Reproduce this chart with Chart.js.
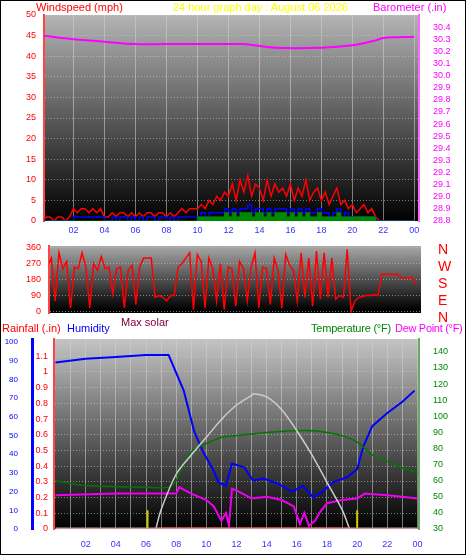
<!DOCTYPE html>
<html><head><meta charset="utf-8">
<script src="https://cdn.jsdelivr.net/npm/chart.js@4"></script>
<style>
body{margin:0;background:#fff;font-family:"Liberation Sans",Arial,sans-serif}
#wrap{position:relative;width:466px;height:555px;box-sizing:border-box;border:1px solid #000;overflow:hidden}
canvas{position:absolute;left:0}
.t{position:absolute;font-size:11px;white-space:nowrap;line-height:12px}
</style></head><body>
<div id="wrap">
<canvas id="c1" style="top:0" width="466" height="242"></canvas>
<canvas id="c2" style="top:242px" width="466" height="76"></canvas>
<canvas id="c3" style="top:330px" width="466" height="225"></canvas>
<div class="t" style="left:35px;top:0;color:#f00">Windspeed (mph)</div>
<div class="t" style="left:172px;top:0;color:#ff0">24 hour graph day : August 06 2026</div>
<div class="t" style="left:372px;top:0;color:#f0f">Barometer (.in)</div>
<div class="t" style="left:437px;top:240px;color:#f00;font-size:14px;line-height:17px">N<br>W<br>S<br>E<br>N</div>
<div class="t" style="left:120px;top:315px;color:#800040">Max solar</div>
<div class="t" style="left:1px;top:321px;color:#f00">Rainfall (.in)</div>
<div class="t" style="left:66px;top:321px;color:#00f">Humidity</div>
<div class="t" style="left:310px;top:321px;color:#080;letter-spacing:-0.2px">Temperature (°F)</div>
<div class="t" style="left:394px;top:321px;color:#f0f;letter-spacing:-0.3px">Dew Point (°F)</div>
</div>
<script>
// ---- data ----
const hourLabels = ["02","04","06","08","10","12","14","16","18","20","22","00"];
const windMax = [0,1,1,0,1,1,0,1, 3,2,3,3,2,3,2,3, 1,1,2,1,2,2,1,2, 1,2,1,2,2,1,2,2, 1,2,1,2,3,2,3,3,
 3,4,3,5,4,6,5,7, 6,9,5,10,7,11,6,9, 8,5,10,6,9,7,8,6, 9,5,8,6,10,5,7,8, 5,7,4,6,8,4,5,3, 4,2,3,4,2,3,1,0, 0,0,0,0,0,0,0,0,0];
const windAvg = [0,0,0,0,0,0,0,0, 1,1,1,1,1,1,1,1, 0,0,1,0,1,1,0,1, 0,1,0,1,1,0,1,1, 0,1,0,1,1,1,1,1,
 1,2,1,2,2,2,2,3, 2,3,2,3,3,4,2,3, 3,2,3,2,3,3,3,2, 3,2,3,2,3,2,2,3, 2,2,1,2,3,1,2,1, 1,1,1,1,1,1,0,0, 0,0,0,0,0,0,0,0,0];
const windLow = [0,0,0,0,0,0,0,0, 0,0,0,0,0,0,0,0, 0,0,0,0,0,0,0,0, 0,0,0,0,0,0,0,0, 0,0,0,0,0,0,0,0,
 1,1,1,1,1,1,1,2, 1,2,1,2,2,2,1,2, 2,1,2,1,2,2,2,1, 2,1,2,1,2,1,1,2, 1,1,1,1,2,1,1,1, 1,1,1,1,1,1,0,0, 0,0,0,0,0,0,0,0,0];
const baroHours = [0,2,4,6,8,10,12,13,15,18,20,21.5,22,24];
const baroVals  = [30.33,30.30,30.28,30.26,30.26,30.26,30.26,30.26,30.23,30.23,30.25,30.29,30.31,30.32];
const windDir = [250,300,60,330,240,280,20,250, 240,330,250,20,270,230,310,240, 250,100,240,250,20,230,260,40,
 250,300,300,300,80,90,80,60, 90,90,250,270,300,330,10,320, 280,20,300,240,60,270,10,250,
 240,30,280,240,60,250,330,20, 250,240,40,300,230,20,320,260, 230,60,330,80,300,30,340,70,
 330,80,300,70,90,80,350,0, 60,80,85,90,90,95,90,210, 210,210,210,210,190,190,190,190,150];
const humHours = [0,2,4,6,7.5,8.5,9.2,9.8,10.5,10.8,11.3,11.7,12.5,13.1,13.8,14.8,15.7,16.4,17.1,17.7,18.4,19.4,20,20.4,21,22,23,23.8];
const humVals  = [89,91,92,93,93,74,52,41,31,25,23,35,33,26,27,24,20,23,17,20,25,28,32,44,55,62,68,74];
const tempHours = [0,2,6,7.5,8,8.5,9,10,11,12,14,16,17,18,19,20,21,22,23,24];
const tempVals  = [60,57,56,56,60,70,78,83,87,88,90,91,91,90,88,84,76,72,68,65];
const dewHours = [0,4,8,8.2,9,10,10.5,11,11.3,11.5,11.7,12,13,14,15,15.8,16.2,16.5,16.8,17.2,17.5,18,19,20,20.5,22,23,24];
const dewVals  = [51,52,52,56,52,48,44,35,40,32,55,54,49,50,48,44,33,40,32,35,40,46,48,49,52,51,50,49];
const solarHours = [6.65,7,8,9,10,11,12,13,13.1,14,15,16,17,18,19,19.5];
const solarVals  = [30,42,64,76,87,98,107,113,114,112,104,91,76,59,42,30];
const rainHours = [0,6.65,6.65,19.5,19.5,24];
const rainVals  = [0,0,0,0,0,0];
const sunMarks = [6.1,20];

// ---- helpers ----
const q = (arr,step)=>arr.map((v,i)=>({x:i*step,y:v}));
const zip = (h,v)=>h.map((x,i)=>({x:x,y:v[i]}));
const F = {family:"Liberation Sans", size:9};
const bg = {id:'bg',beforeDraw(c,a,o){const {ctx,chartArea:ca}=c;const g=ctx.createLinearGradient(0,ca.top,0,ca.bottom);
 g.addColorStop(0,o.c0);g.addColorStop(o.s||0.9,'#000');g.addColorStop(1,'#000');ctx.save();ctx.fillStyle=g;ctx.fillRect(ca.left,ca.top,ca.width,ca.height);ctx.restore();}};
const xTick = v=>{const h=Math.round(v);return (Math.abs(v-h)<0.01 && h%2===0 && h>0)?hourLabels[h/2-1]:'';};
const grid = {color:'rgba(210,210,210,0.55)',lineWidth:1,tickLength:0};
const fixW = w=>s=>{s.width=w;s.paddingTop=0;s.paddingBottom=0;};
const fixH = h=>s=>{s.height=h;};
const fixTicks = arr=>s=>{s.ticks=arr.map(v=>({value:v}));};
const base = {responsive:false,animation:false,events:[],plugins:{legend:{display:false},tooltip:{enabled:false}},elements:{point:{radius:0}}};

// ---- top chart ----
new Chart(document.getElementById('c1'),{type:'line',plugins:[bg],
 data:{datasets:[
  {data:zip(baroHours,baroVals),yAxisID:'yb',borderColor:'#f0f',borderWidth:2,tension:0.4},
  {data:q(windLow,0.25),yAxisID:'y',borderColor:'#080',backgroundColor:'#080',fill:'origin',borderWidth:1,stepped:true},
  {data:q(windAvg,0.25),yAxisID:'y',borderColor:'#00f',borderWidth:1.5,stepped:true},
  {data:q(windMax,0.25),yAxisID:'y',borderColor:'#f00',borderWidth:1.5}]},
 options:{...base,layout:{padding:{top:14}},plugins:{...base.plugins,bg:{c0:'#b4b4b4',s:1}},
  scales:{
   x:{type:'linear',min:0.1,max:24.3,afterFit:fixH(22),afterBuildTicks:fixTicks([2,4,6,8,10,12,14,16,18,20,22,24]),
      ticks:{callback:xTick,color:'#33f',font:F,autoSkip:false,maxRotation:0,padding:4},grid:{...grid,borderDash:[2,2]},border:{display:false}},
   y:{position:'left',min:0,max:50,afterFit:fixW(43),ticks:{stepSize:5,color:'#f00',font:F,padding:8},
      grid:{...grid,borderDash:[2,2]},border:{color:'#f44',dash:[1,2],width:2}},
   yb:{position:'right',min:28.8,max:30.5,afterFit:fixW(48),afterBuildTicks:fixTicks([28.8,28.9,29,29.1,29.2,29.3,29.4,29.5,29.6,29.7,29.8,29.9,30,30.1,30.2,30.3,30.4]),
      ticks:{color:'#f0f',font:F,padding:6,autoSkip:false,callback:v=>v.toFixed(1)},grid:{display:false},border:{color:'#f6f',dash:[1,2],width:2}}}}});

// ---- middle chart ----
new Chart(document.getElementById('c2'),{type:'line',plugins:[bg],
 data:{datasets:[{data:q(windDir,0.25),borderColor:'#f00',borderWidth:1.5}]},
 options:{...base,layout:{padding:{top:3,bottom:6}},plugins:{...base.plugins,bg:{c0:'#a8a8a8',s:0.95}},
  scales:{
   x:{type:'linear',min:0.1,max:24.3,display:false},
   y:{position:'left',min:-8,max:368,afterFit:fixW(48),afterBuildTicks:fixTicks([0,90,180,270,360]),
      ticks:{color:'#f00',font:F,padding:8,autoSkip:false},grid:{...grid,borderDash:[2,2]},border:{color:'#f44',dash:[1,2],width:2}},
   yr:{position:'right',display:true,afterFit:fixW(46),ticks:{display:false},grid:{display:false},border:{display:false}}}}});

// ---- bottom chart ----
const sunData=[];sunMarks.forEach(h=>{sunData.push({x:h,y:0},{x:h,y:10},{x:h,y:null});});
new Chart(document.getElementById('c3'),{type:'line',plugins:[bg],
 data:{datasets:[
  {data:q([0,0],24),yAxisID:'yr',borderColor:'#c99',borderWidth:3},
  {data:zip(rainHours,rainVals).slice(1,4),yAxisID:'yr',borderColor:'#f00',borderWidth:3},
  {data:sunData,yAxisID:'yh',borderColor:'#cc0',borderWidth:2,spanGaps:false},
  {data:zip(solarHours,solarVals),yAxisID:'yt',borderColor:'#ccc',borderWidth:1.5,tension:0.3},
  {data:zip(tempHours,tempVals),yAxisID:'yt',borderColor:'#070',borderWidth:1.5,tension:0.3},
  {data:zip(dewHours,dewVals),yAxisID:'yt',borderColor:'#e0e',borderWidth:2},
  {data:zip(humHours,humVals),yAxisID:'yh',borderColor:'#00f',borderWidth:2}]},
 options:{...base,layout:{padding:{top:8}},plugins:{...base.plugins,bg:{c0:'#c4c4c4',s:1}},
  scales:{
   x:{type:'linear',min:-0.1,max:24.1,afterFit:fixH(27),afterBuildTicks:fixTicks([1,2,3,4,5,6,7,8,9,10,11,12,13,14,15,16,17,18,19,20,21,22,23,24]),
      ticks:{callback:xTick,color:'#33f',font:F,autoSkip:false,maxRotation:0,padding:10},grid:{...grid,borderDash:[2,2]},border:{display:false}},
   yr:{position:'left',weight:0,min:0,max:1.21,afterFit:fixW(22),afterBuildTicks:fixTicks([0,0.1,0.2,0.3,0.4,0.5,0.6,0.7,0.8,0.9,1,1.1]),
      ticks:{color:'#f00',font:F,padding:6,autoSkip:false,callback:v=>v===0?'0':(+v.toFixed(1)).toString()},grid:{...grid,borderDash:[2,2]},border:{color:'#f44',dash:[1,2],width:2}},
   yh:{position:'left',weight:1,min:0,max:101.6,afterFit:fixW(31),afterBuildTicks:fixTicks([0,10,20,30,40,50,60,70,80,90,100]),
      ticks:{color:'#00f',font:{family:"Liberation Sans",size:8},padding:6,autoSkip:false},grid:{display:false},border:{color:'#00f',width:3}},
   yt:{position:'right',min:30,max:148,afterFit:fixW(48),afterBuildTicks:fixTicks([30,40,50,60,70,80,90,100,110,120,130,140]),
      ticks:{color:'#080',font:F,padding:6,autoSkip:false},grid:{display:false},border:{color:'#6a6',dash:[1,2],width:2}}}}});
</script></body></html>
